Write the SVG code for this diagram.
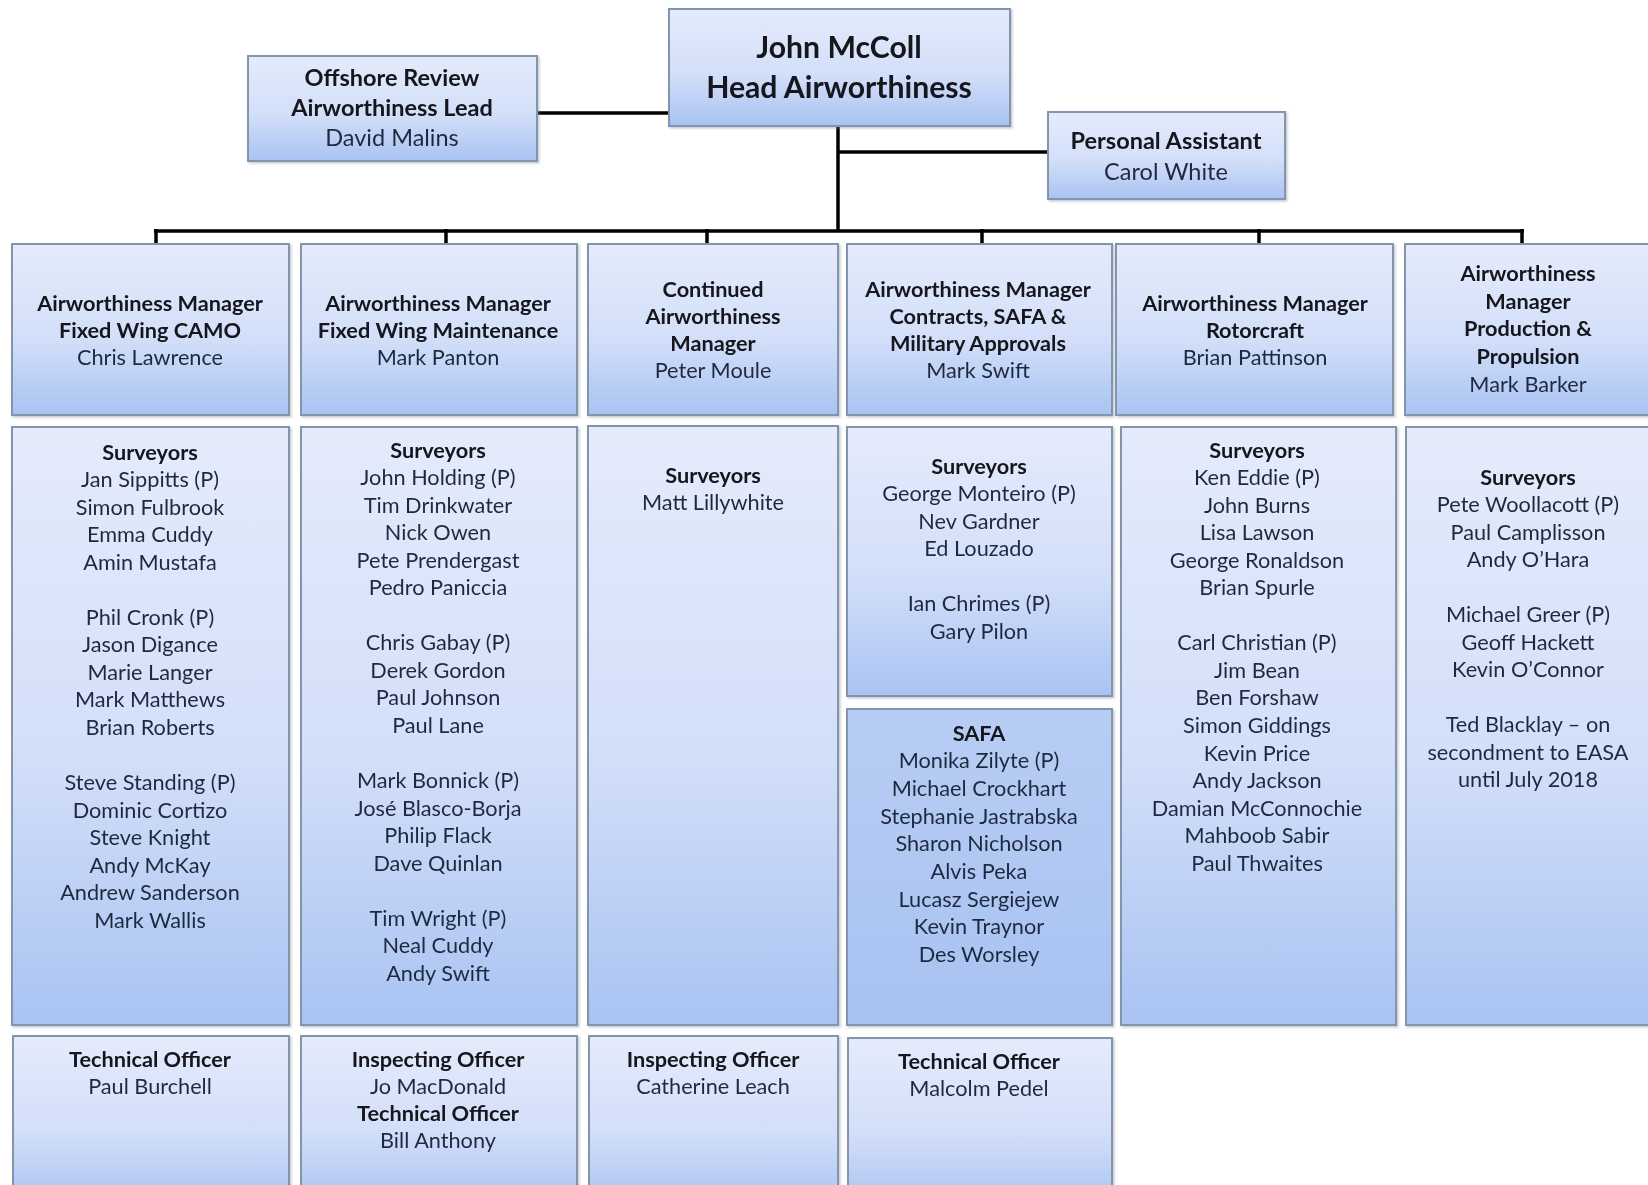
<svg xmlns="http://www.w3.org/2000/svg" width="1648" height="1185" viewBox="0 0 1648 1185">
<style>
.box{fill:url(#g);stroke:#8395ab;stroke-width:2}
.safa{fill:url(#gs);stroke:#8395ab;stroke-width:2}
text{font-family:Lato,"Liberation Sans",sans-serif;font-size:21.7px;text-anchor:middle;fill:#1f2940}
.b{font-weight:bold;fill:#12151c}
.l{font-size:23.5px}
.h{font-size:30.2px;font-weight:bold;fill:#12151c}
.c{stroke:#000;stroke-width:3.5;fill:none}
</style>
<defs>
<linearGradient id="g" x1="0" y1="0" x2="0" y2="1">
<stop offset="0" stop-color="#e4ebfb"/>
<stop offset="0.55" stop-color="#d3dff9"/>
<stop offset="1" stop-color="#a9c3f2"/>
</linearGradient>
<linearGradient id="gs" x1="0" y1="0" x2="0" y2="1">
<stop offset="0" stop-color="#b8cdf4"/>
<stop offset="1" stop-color="#a8c2f1"/>
</linearGradient>
<filter id="sh" x="-5%" y="-5%" width="110%" height="110%">
<feDropShadow dx="1.5" dy="1.5" stdDeviation="1.2" flood-color="#7d8796" flood-opacity="0.45"/>
</filter>
</defs>
<rect width="1648" height="1185" fill="#ffffff"/>

<g id="connectors">
<path class="c" d="M537 113H669"/>
<path class="c" d="M838 126V231"/>
<path class="c" d="M838 152H1048"/>
<path class="c" d="M154 231H1524"/>
<path class="c" d="M156 229V244M446 229V244M707 229V244M982 229V244M1259 229V244M1522 229V244"/>
</g>

<g id="head" filter="url(#sh)">
<rect class="box" x="669" y="9" width="341" height="117"/>
<text class="h" x="839" y="58">John McColl</text>
<text class="h" x="839" y="98">Head Airworthiness</text>
</g>

<g id="offshore" filter="url(#sh)">
<rect class="box" x="248" y="56" width="289" height="105"/>
<text class="b l" x="392" y="86">Offshore Review</text>
<text class="b l" x="392" y="116">Airworthiness Lead</text>
<text class="l" x="392" y="146">David Malins</text>
</g>

<g id="pa" filter="url(#sh)">
<rect class="box" x="1048" y="112" width="237" height="87"/>
<text class="b l" x="1166" y="149">Personal Assistant</text>
<text class="l" x="1166" y="180">Carol White</text>
</g>

<g id="mgr1" filter="url(#sh)">
<rect class="box" x="12" y="244" width="277" height="171"/>
<text class="b" x="150" y="310.5">Airworthiness Manager</text>
<text class="b" x="150" y="337.8">Fixed Wing CAMO</text>
<text x="150" y="365.1">Chris Lawrence</text>
</g>
<g id="mgr2" filter="url(#sh)">
<rect class="box" x="301" y="244" width="276" height="171"/>
<text class="b" x="438" y="310.5">Airworthiness Manager</text>
<text class="b" x="438" y="337.8">Fixed Wing Maintenance</text>
<text x="438" y="365.1">Mark Panton</text>
</g>
<g id="mgr3" filter="url(#sh)">
<rect class="box" x="588" y="244" width="250" height="171"/>
<text class="b" x="713" y="296.5">Continued</text>
<text class="b" x="713" y="323.8">Airworthiness</text>
<text class="b" x="713" y="351.1">Manager</text>
<text x="713" y="378.4">Peter Moule</text>
</g>
<g id="mgr4" filter="url(#sh)">
<rect class="box" x="847" y="244" width="265" height="171"/>
<text class="b" x="978" y="296.5">Airworthiness Manager</text>
<text class="b" x="978" y="323.8">Contracts, SAFA &amp;</text>
<text class="b" x="978" y="351.1">Military Approvals</text>
<text x="978" y="378.4">Mark Swift</text>
</g>
<g id="mgr5" filter="url(#sh)">
<rect class="box" x="1116" y="244" width="277" height="171"/>
<text class="b" x="1255" y="310.5">Airworthiness Manager</text>
<text class="b" x="1255" y="337.8">Rotorcraft</text>
<text x="1255" y="365.1">Brian Pattinson</text>
</g>
<g id="mgr6" filter="url(#sh)">
<rect class="box" x="1405" y="244" width="260" height="171"/>
<text class="b" x="1528" y="280.5">Airworthiness</text>
<text class="b" x="1528" y="308.5">Manager</text>
<text class="b" x="1528" y="336">Production &amp;</text>
<text class="b" x="1528" y="363.5">Propulsion</text>
<text x="1528" y="391.5">Mark Barker</text>
</g>

<g id="surv1" filter="url(#sh)">
<rect class="box" x="12" y="427" width="277" height="598"/>
<text x="150" y="459.5"><tspan class="b">Surveyors</tspan><tspan x="150" dy="27.55">Jan Sippitts (P)</tspan><tspan x="150" dy="27.55">Simon Fulbrook</tspan><tspan x="150" dy="27.55">Emma Cuddy</tspan><tspan x="150" dy="27.55">Amin Mustafa</tspan><tspan x="150" dy="55.1">Phil Cronk (P)</tspan><tspan x="150" dy="27.55">Jason Digance</tspan><tspan x="150" dy="27.55">Marie Langer</tspan><tspan x="150" dy="27.55">Mark Matthews</tspan><tspan x="150" dy="27.55">Brian Roberts</tspan><tspan x="150" dy="55.1">Steve Standing (P)</tspan><tspan x="150" dy="27.55">Dominic Cortizo</tspan><tspan x="150" dy="27.55">Steve Knight</tspan><tspan x="150" dy="27.55">Andy McKay</tspan><tspan x="150" dy="27.55">Andrew Sanderson</tspan><tspan x="150" dy="27.55">Mark Wallis</tspan></text>
</g>
<g id="surv2" filter="url(#sh)">
<rect class="box" x="301" y="427" width="276" height="598"/>
<text x="438" y="457.5"><tspan class="b">Surveyors</tspan><tspan x="438" dy="27.55">John Holding (P)</tspan><tspan x="438" dy="27.55">Tim Drinkwater</tspan><tspan x="438" dy="27.55">Nick Owen</tspan><tspan x="438" dy="27.55">Pete Prendergast</tspan><tspan x="438" dy="27.55">Pedro Paniccia</tspan><tspan x="438" dy="55.1">Chris Gabay (P)</tspan><tspan x="438" dy="27.55">Derek Gordon</tspan><tspan x="438" dy="27.55">Paul Johnson</tspan><tspan x="438" dy="27.55">Paul Lane</tspan><tspan x="438" dy="55.1">Mark Bonnick (P)</tspan><tspan x="438" dy="27.55">José Blasco-Borja</tspan><tspan x="438" dy="27.55">Philip Flack</tspan><tspan x="438" dy="27.55">Dave Quinlan</tspan><tspan x="438" dy="55.1">Tim Wright (P)</tspan><tspan x="438" dy="27.55">Neal Cuddy</tspan><tspan x="438" dy="27.55">Andy Swift</tspan></text>
</g>
<g id="surv3" filter="url(#sh)">
<rect class="box" x="588" y="426" width="250" height="599"/>
<text x="713" y="482.5"><tspan class="b">Surveyors</tspan><tspan x="713" dy="27.3">Matt Lillywhite</tspan></text>
</g>
<g id="surv4" filter="url(#sh)">
<rect class="box" x="847" y="427" width="265" height="269"/>
<text x="979" y="473.5"><tspan class="b">Surveyors</tspan><tspan x="979" dy="27.5">George Monteiro (P)</tspan><tspan x="979" dy="27.5">Nev Gardner</tspan><tspan x="979" dy="27.5">Ed Louzado</tspan><tspan x="979" dy="55">Ian Chrimes (P)</tspan><tspan x="979" dy="27.5">Gary Pilon</tspan></text>
</g>
<g id="safa" filter="url(#sh)">
<rect class="safa" x="847" y="709" width="265" height="316"/>
<text x="979" y="740.5"><tspan class="b">SAFA</tspan><tspan x="979" dy="27.7">Monika Zilyte (P)</tspan><tspan x="979" dy="27.7">Michael Crockhart</tspan><tspan x="979" dy="27.7">Stephanie Jastrabska</tspan><tspan x="979" dy="27.7">Sharon Nicholson</tspan><tspan x="979" dy="27.7">Alvis Peka</tspan><tspan x="979" dy="27.7">Lucasz Sergiejew</tspan><tspan x="979" dy="27.7">Kevin Traynor</tspan><tspan x="979" dy="27.7">Des Worsley</tspan></text>
</g>
<g id="surv5" filter="url(#sh)">
<rect class="box" x="1121" y="427" width="275" height="598"/>
<text x="1257" y="457.5"><tspan class="b">Surveyors</tspan><tspan x="1257" dy="27.55">Ken Eddie (P)</tspan><tspan x="1257" dy="27.55">John Burns</tspan><tspan x="1257" dy="27.55">Lisa Lawson</tspan><tspan x="1257" dy="27.55">George Ronaldson</tspan><tspan x="1257" dy="27.55">Brian Spurle</tspan><tspan x="1257" dy="55.1">Carl Christian (P)</tspan><tspan x="1257" dy="27.55">Jim Bean</tspan><tspan x="1257" dy="27.55">Ben Forshaw</tspan><tspan x="1257" dy="27.55">Simon Giddings</tspan><tspan x="1257" dy="27.55">Kevin Price</tspan><tspan x="1257" dy="27.55">Andy Jackson</tspan><tspan x="1257" dy="27.55">Damian McConnochie</tspan><tspan x="1257" dy="27.55">Mahboob Sabir</tspan><tspan x="1257" dy="27.55">Paul Thwaites</tspan></text>
</g>
<g id="surv6" filter="url(#sh)">
<rect class="box" x="1406" y="427" width="260" height="598"/>
<text x="1528" y="484.5"><tspan class="b">Surveyors</tspan><tspan x="1528" dy="27.5">Pete Woollacott (P)</tspan><tspan x="1528" dy="27.5">Paul Camplisson</tspan><tspan x="1528" dy="27.5">Andy O’Hara</tspan><tspan x="1528" dy="55">Michael Greer (P)</tspan><tspan x="1528" dy="27.5">Geoff Hackett</tspan><tspan x="1528" dy="27.5">Kevin O’Connor</tspan><tspan x="1528" dy="55">Ted Blacklay – on</tspan><tspan x="1528" dy="27.5">secondment to EASA</tspan><tspan x="1528" dy="27.5">until July 2018</tspan></text>
</g>

<g id="off1" filter="url(#sh)">
<rect class="box" x="13" y="1036" width="276" height="170"/>
<text class="b" x="150" y="1066.5">Technical Officer</text>
<text x="150" y="1093.8">Paul Burchell</text>
</g>
<g id="off2" filter="url(#sh)">
<rect class="box" x="301" y="1036" width="276" height="170"/>
<text class="b" x="438" y="1066.5">Inspecting Officer</text>
<text x="438" y="1093.8">Jo MacDonald</text>
<text class="b" x="438" y="1121.1">Technical Officer</text>
<text x="438" y="1148.4">Bill Anthony</text>
</g>
<g id="off3" filter="url(#sh)">
<rect class="box" x="589" y="1036" width="249" height="170"/>
<text class="b" x="713" y="1066.5">Inspecting Officer</text>
<text x="713" y="1093.8">Catherine Leach</text>
</g>
<g id="off4" filter="url(#sh)">
<rect class="box" x="848" y="1038" width="264" height="170"/>
<text class="b" x="979" y="1068.5">Technical Officer</text>
<text x="979" y="1095.8">Malcolm Pedel</text>
</g>
</svg>
